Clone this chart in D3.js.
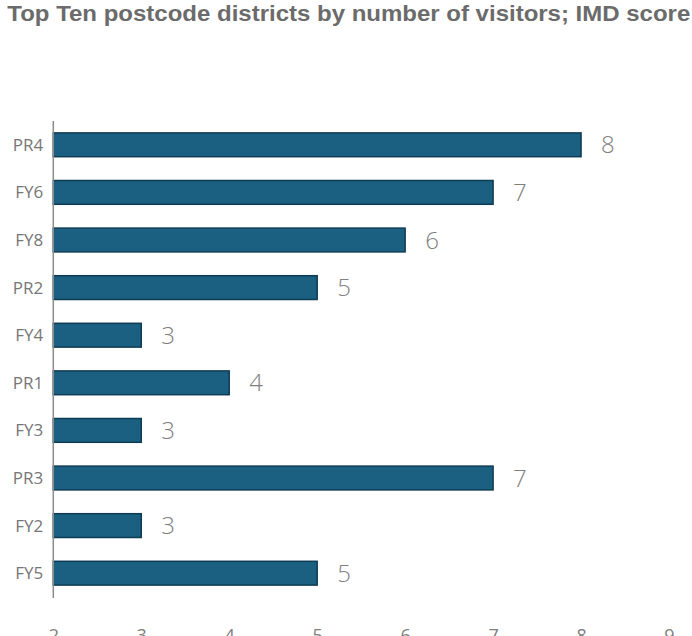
<!DOCTYPE html>
<html><head><meta charset="utf-8">
<script src="https://cdn.jsdelivr.net/npm/d3@7"></script>
<style>body{margin:0;background:#fff}svg{display:block}</style>
</head><body>
<svg id="c" width="692" height="636"></svg>
<script>
const title = "Top Ten postcode districts by number of visitors; IMD score";
const categories = ["PR4","FY6","FY8","PR2","FY4","PR1","FY3","PR3","FY2","FY5"];
const values = [8,7,6,5,3,4,3,7,3,5];
const xTicks = [2,3,4,5,6,7,8,9];

const svg = d3.select("#c");
const x = d3.scaleLinear().domain([2,9]).range([53.3,669]);
const y = d3.scaleBand().domain(categories).range([121,597]).paddingInner(0.5).paddingOuter(0.25);

svg.append("text").attr("x",7.3).attr("y",21)
  .attr("font-family","Liberation Sans, Arial, sans-serif").attr("font-weight","bold")
  .attr("font-size",22).attr("fill","#6b6b6b")
  .attr("textLength",683).attr("lengthAdjust","spacingAndGlyphs").text(title);

const data = categories.map((c,i)=>({c, v: values[i]}));

svg.append("g").selectAll("rect").data(data).join("rect")
  .attr("x", x(2)).attr("y", d=>y(d.c))
  .attr("width", d=>x(d.v)-x(2)).attr("height", y.bandwidth())
  .attr("fill","#1b6081").attr("stroke","#0e3c54").attr("stroke-width",1.5);

svg.append("g").selectAll("text").data(data).join("text")
  .attr("x", d=>x(d.v)+20).attr("y", d=>y(d.c)+y.bandwidth()/2+8.5)
  .attr("font-family","Open Sans, sans-serif").attr("font-weight",300)
  .attr("font-size",24).attr("fill","#7f7f7f").text(d=>d.v);

// y axis
const ya = svg.append("g").attr("transform",`translate(${x(2)},0)`)
  .call(d3.axisLeft(y).tickSize(0).tickPadding(10));
ya.select(".domain").attr("stroke","#8c8c8c").attr("stroke-width",1.5).attr("d",`M0,121V598`);
ya.selectAll("text").attr("font-family","Open Sans, sans-serif").attr("font-size",17).attr("fill","#767676").attr("dy","0.35em");

// x axis
const xa = svg.append("g").attr("transform","translate(0,623)")
  .call(d3.axisBottom(x).tickValues(xTicks).tickFormat(d3.format("d")).tickSize(0).tickPadding(6));
xa.select(".domain").remove();
xa.selectAll("text").attr("font-family","Open Sans, sans-serif").attr("font-size",18).attr("fill","#808080");
</script>
</body></html>
